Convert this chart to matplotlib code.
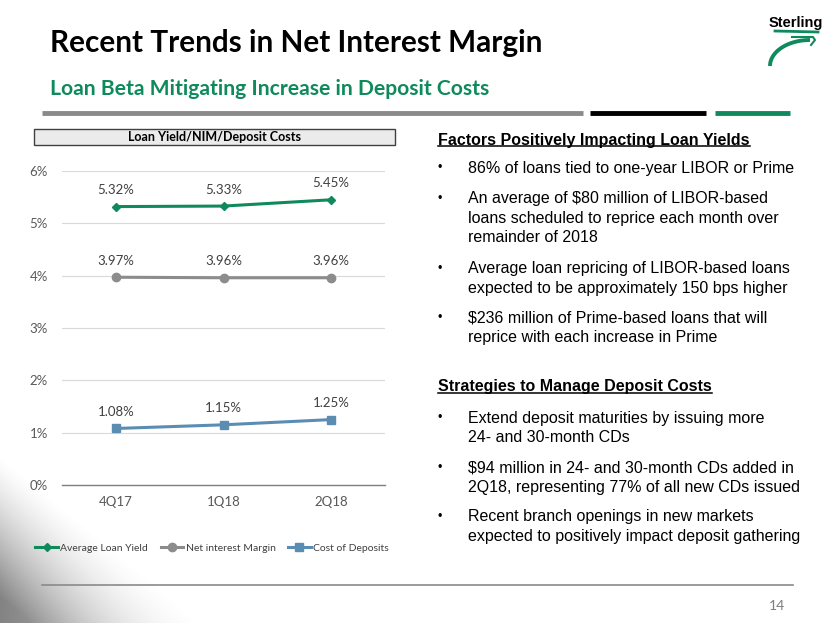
import matplotlib
matplotlib.use("Agg")
import matplotlib.pyplot as plt
import numpy as np
from matplotlib.lines import Line2D
from matplotlib.patches import Rectangle

# ---- data ----
quarters = ["4Q17", "1Q18", "2Q18"]
loan_yield = [5.32, 5.33, 5.45]
nim = [3.97, 3.96, 3.96]
deposit_cost = [1.08, 1.15, 1.25]
series_names = ["Average Loan Yield", "Net interest Margin", "Cost of Deposits"]
y_ticks = [0, 1, 2, 3, 4, 5, 6]

GREEN = "#0f8a5c"
GRAY = "#8c8c8c"
BLUE = "#5b8db3"

W, H = 830, 623
fig = plt.figure(figsize=(W / 100, H / 100), dpi=100)
fig.patch.set_facecolor("white")

def fx(px):
    return px / W

def fy(py):
    return 1 - py / H

# background gradient bottom-left (diagonal band)
bg = fig.add_axes([0, 0, 1, 1], zorder=-10)
yy, xx = np.mgrid[0:H, 0:W].astype(float)
n = np.array([-163.0, 200.0]) / np.hypot(163, 200)
d = (xx - 0) * n[0] + (yy - 455) * n[1]
alpha = np.clip(d / 110.0, 0, 1) ** 1.3 * 0.75
alpha *= np.clip(1 - xx / 260.0, 0, 1)
img = np.ones((H, W, 4))
img[..., :3] = 0.35
img[..., 3] = alpha
bg.imshow(img, extent=[0, W, H, 0], aspect="auto")
bg.set_xlim(0, W)
bg.set_ylim(H, 0)
bg.axis("off")

CAL = ["Lato", "DejaVu Sans"]
ARI = ["Liberation Sans", "DejaVu Sans"]

# ---- header ----
fig.text(fx(50), fy(52), "Recent Trends in Net Interest Margin", family=CAL,
         fontweight="bold", fontsize=21.4, color="black", ha="left", va="baseline")
fig.text(fx(50), fy(95), "Loan Beta Mitigating Increase in Deposit Costs", family=CAL,
         fontweight="bold", fontsize=15.2, color=GREEN, ha="left", va="baseline")

for (x0, x1, c) in [(42, 583, "#8a8a8a"), (590, 706, "black"), (715, 790, GREEN)]:
    fig.add_artist(Line2D([fx(x0), fx(x1)], [fy(113), fy(113)], color=c, lw=3.5,
                          solid_capstyle="butt"))

# bottom rule and page number
fig.add_artist(Line2D([fx(42), fx(793)], [fy(585), fy(585)], color="#8a8a8a", lw=1.2))
fig.text(fx(777), fy(606), "14", family=CAL, fontsize=10, color="#7f7f7f", ha="center", va="center")

# logo
fig.text(fx(796), fy(23), "Sterling", family=["Liberation Sans Narrow", "Liberation Sans"],
         fontweight="bold", fontsize=10.5, color="black", ha="center", va="center")
fig.add_artist(Line2D([fx(775), fx(818)], [fy(31), fy(32)], color=GREEN, lw=2))
fig.add_artist(Line2D([fx(792), fx(813), fx(815), fx(811)], [fy(37), fy(37), fy(40), fy(45)],
                      color=GREEN, lw=1.5))
th = np.linspace(0, np.pi / 2, 30)
fig.add_artist(Line2D(fx(770 + 40 * (1 - np.cos(th))), fy(66 - 26 * np.sin(th)),
                      color=GREEN, lw=2.8, solid_capstyle="butt"))

# ---- chart title box ----
fig.add_artist(Rectangle((fx(34), fy(145)), fx(395) - fx(34), fy(129) - fy(145),
                         facecolor="#ebebeb", edgecolor="#404040", lw=1))
fig.text(fx(214), fy(137), "Loan Yield/NIM/Deposit Costs", family=CAL, fontweight="bold",
         fontsize=9, color="black", ha="center", va="center")

# ---- chart ----
ax = fig.add_axes([fx(62), fy(485), fx(385) - fx(62), fy(171) - fy(485)])
x = np.arange(len(quarters))
ax.plot(x, loan_yield, color=GREEN, lw=2.2, marker="D", ms=4.5, label=series_names[0])
ax.plot(x, nim, color=GRAY, lw=2.2, marker="o", ms=6, label=series_names[1])
ax.plot(x, deposit_cost, color=BLUE, lw=2.2, marker="s", ms=6, label=series_names[2])

for series in (loan_yield, nim, deposit_cost):
    for xi, v in zip(x, series):
        ax.annotate(f"{v:.2f}%", (xi, v), xytext=(0, 7.5), textcoords="offset points",
                    ha="center", va="bottom", family=CAL, fontsize=9.5, color="#404040")

ax.set_xlim(-0.5, len(quarters) - 0.5)
ax.set_ylim(min(y_ticks), max(y_ticks))
ax.set_yticks(y_ticks)
ax.set_yticklabels([f"{t}%" for t in y_ticks], family=CAL, fontsize=9.5, color="#595959")
ax.set_xticks(x)
ax.set_xticklabels(quarters, family=CAL, fontsize=9.5, color="#595959")
ax.tick_params(length=0)
ax.tick_params(axis="x", pad=8)
ax.tick_params(axis="y", pad=10)
ax.grid(axis="y", color="#d9d9d9", lw=0.8)
ax.set_axisbelow(True)
for s in ["top", "right", "left"]:
    ax.spines[s].set_visible(False)
ax.spines["bottom"].set_color("#7f7f7f")
ax.spines["bottom"].set_linewidth(1)
ax.patch.set_alpha(0)

leg = fig.legend(loc="center", bbox_to_anchor=(fx(212), fy(548)), ncol=3, frameon=False,
                 prop={"family": CAL, "size": 7.5}, handlelength=2.2, handletextpad=0.2,
                 columnspacing=1.2, labelcolor="#404040")

# ---- right text ----
def heading(y, txt):
    t = fig.text(fx(438), fy(y), txt, family=ARI, fontweight="bold", fontsize=11.5,
                 color="black", ha="left", va="center")
    return t

head1 = heading(140, "Factors Positively Impacting Loan Yields")
head2 = heading(387, "Strategies to Manage Deposit Costs")

bullets = [
    (168, ["86% of loans tied to one-year LIBOR or Prime"]),
    (199, ["An average of $80 million of LIBOR-based",
           "loans scheduled to reprice each month over",
           "remainder of 2018"]),
    (269, ["Average loan repricing of LIBOR-based loans",
           "expected to be approximately 150 bps higher"]),
    (318, ["$236 million of Prime-based loans that will",
           "reprice with each increase in Prime"]),
    (418, ["Extend deposit maturities by issuing more",
           "24- and 30-month CDs"]),
    (468, ["$94 million in 24- and 30-month CDs added in",
           "2Q18, representing 77% of all new CDs issued"]),
    (517, ["Recent branch openings in new markets",
           "expected to positively impact deposit gathering"]),
]
for y0, lines in bullets:
    fig.text(fx(440), fy(y0), "\u2022", family=ARI, fontsize=9, color="black",
             ha="center", va="center")
    for i, ln in enumerate(lines):
        fig.text(fx(468), fy(y0 + 19.5 * i), ln, family=ARI, fontsize=11.5,
                 color="black", ha="left", va="center")

# underline headings
fig.canvas.draw()
r = fig.canvas.get_renderer()
for t in (head1, head2):
    bb = t.get_window_extent(r)
    yb = bb.y0 + 1.5
    fig.add_artist(Line2D([bb.x0 / W, bb.x1 / W], [yb / H, yb / H], color="black", lw=1.1))

fig.savefig("out.png", dpi=100)
